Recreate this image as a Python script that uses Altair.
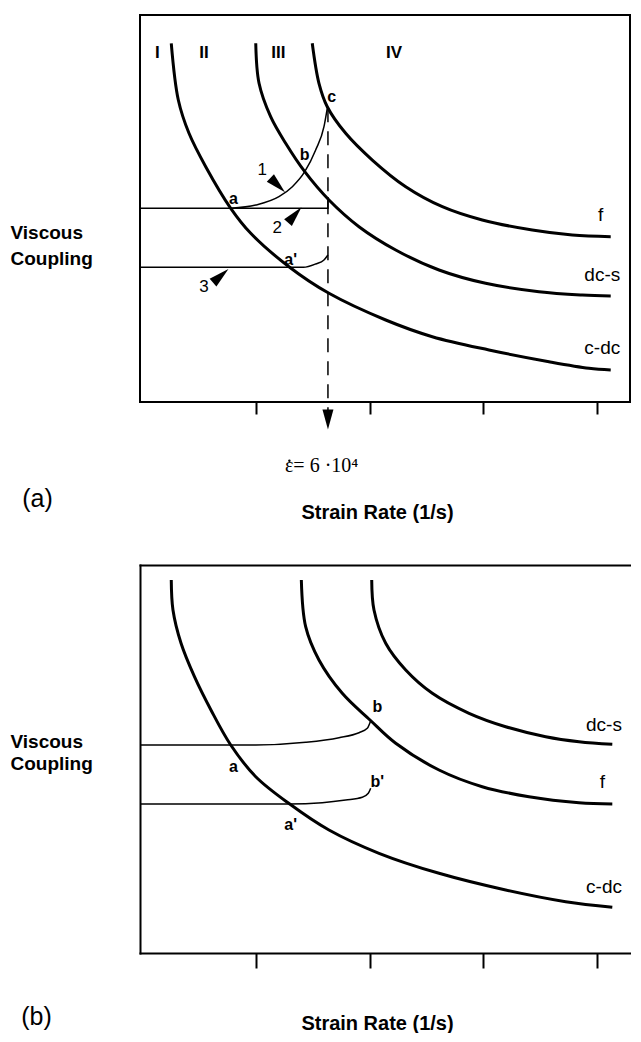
import altair as alt
import pandas as pd

# ---------------- panel (a) data ----------------
a_cdc_x = [0.255, 0.317, 0.411, 0.558, 0.778, 0.954, 1.290, 1.642, 2.141, 2.551, 3.049, 3.577, 3.929, 4.120]
a_cdc_y = [9.269, 7.804, 6.943, 6.080, 5.005, 4.359, 3.496, 2.809, 2.119, 1.687, 1.344, 1.041, 0.871, 0.827]
a_dcs_x = [0.998, 1.027, 1.129, 1.261, 1.429, 1.642, 1.906, 2.229, 2.610, 3.020, 3.489, 3.870, 4.120]
a_dcs_y = [9.269, 8.235, 7.372, 6.685, 5.951, 5.220, 4.530, 3.928, 3.411, 3.067, 2.850, 2.765, 2.739]
a_f_x = [1.495, 1.554, 1.627, 1.789, 2.023, 2.317, 2.639, 2.990, 3.430, 3.782, 4.120]
a_f_y = [9.269, 8.235, 7.630, 6.943, 6.253, 5.563, 5.047, 4.703, 4.444, 4.315, 4.271]

# thin paths (a)
a_p1_x = [0.778, 0.998, 1.202, 1.320, 1.429, 1.525, 1.598, 1.627]
a_p1_y = [5.005, 5.090, 5.305, 5.563, 5.951, 6.512, 7.114, 7.590]
a_p2_x = [-0.02, 1.633, 1.633]
a_p2_y = [5.005, 5.005, 5.300]
a_p3_x = [-0.02, 1.290, 1.417, 1.525, 1.598, 1.633]
a_p3_y = [3.481, 3.481, 3.481, 3.566, 3.669, 3.798]

cut_x = 1.633          # critical strain rate (dashed line)
cut_top = 7.59
cut_bottom = -0.207
arrow_tip_y = -0.452

# small pointer arrows (a)
ptr_x = [1.191, 1.341, 0.690]
ptr_y = [5.602, 4.832, 3.261]
ptr_ang = [134.4, 41.1, 48.7]

# labels (a)
reg_lab = ["I", "II", "III", "IV"]
reg_x = [0.132, 0.543, 1.196, 2.214]
reg_y = [9.01, 9.01, 9.01, 9.01]
a_pt_lab = ["c", "b", "a", "a'"]
a_pt_x = [1.666, 1.429, 0.801, 1.305]
a_pt_y = [7.889, 6.382, 5.238, 3.669]
a_num_lab = ["1", "2", "3"]
a_num_x = [1.056, 1.188, 0.543]
a_num_y = [5.995, 4.488, 2.979]
a_cv_lab = ["f", "dc-s", "c-dc"]
a_cv_x = [4.032, 4.046, 4.046]
a_cv_y = [4.832, 3.282, 1.387]

# ---------------- panel (b) data ----------------
b_cdc_x = [0.255, 0.270, 0.341, 0.459, 0.604, 0.778, 0.998, 1.297, 1.642, 2.082, 2.610, 3.196, 3.724, 4.134]
b_cdc_y = [9.613, 8.840, 7.982, 7.121, 6.263, 5.361, 4.544, 3.840, 3.170, 2.570, 2.054, 1.624, 1.322, 1.178]
b_f_x = [1.399, 1.437, 1.554, 1.759, 2.003, 2.229, 2.610, 2.990, 3.401, 3.841, 4.134]
b_f_y = [9.613, 8.410, 7.552, 6.693, 6.005, 5.405, 4.716, 4.286, 4.028, 3.874, 3.840]
b_dcs_x = [2.018, 2.038, 2.141, 2.317, 2.551, 2.874, 3.196, 3.548, 3.841, 4.134]
b_dcs_y = [9.613, 8.840, 7.982, 7.294, 6.693, 6.178, 5.832, 5.575, 5.446, 5.379]

b_p1_x = [-0.02, 0.998, 1.437, 1.730, 1.906, 1.979, 2.009]
b_p1_y = [5.361, 5.361, 5.430, 5.549, 5.678, 5.791, 5.987]
b_p2_x = [-0.02, 1.290, 1.583, 1.789, 1.935, 1.988, 2.009]
b_p2_y = [3.840, 3.840, 3.874, 3.943, 4.013, 4.116, 4.245]

b_pt_lab = ["b", "a", "b'", "a'"]
b_pt_x = [2.067, 0.801, 2.067, 1.305]
b_pt_y = [6.348, 4.802, 4.415, 3.299]
b_cv_lab = ["dc-s", "f", "c-dc"]
b_cv_x = [4.061, 4.046, 4.061]
b_cv_y = [5.876, 4.415, 1.709]

tick_vals = [1, 2, 3, 4]
x_title = "Strain Rate (1/s)"
y_title = ["Viscous", "Coupling"]
rate_text = "\u03b5= 6 \u00b710\u2074"
rate_x, rate_y = 1.255, -1.809
rate_dot_x, rate_dot_y = 1.294, -1.52

# ---------------- helpers ----------------
W, HA, HB = 490, 387, 388
FONT = "Liberation Sans"
xs = alt.Scale(domain=[-0.02, 4.2896], nice=False, zero=False)
ys = alt.Scale(domain=[0, 10], nice=False, zero=False)


def line_df(parts):
    rows = []
    for name, xx, yy in parts:
        for i, (a, b) in enumerate(zip(xx, yy)):
            rows.append({"x": a, "y": b, "name": name, "i": i})
    return pd.DataFrame(rows)


def txt_df(labels, xx, yy):
    return pd.DataFrame({"x": xx, "y": yy, "t": labels})


def lines(df, width, interp, ax=None, ay=None):
    return alt.Chart(df).mark_line(color="black", strokeWidth=width, interpolate=interp).encode(
        x=alt.X("x:Q", scale=xs, axis=ax),
        y=alt.Y("y:Q", scale=ys, axis=ay),
        detail="name:N",
        order="i:Q",
    )


def texts(df, size, weight="normal", font=FONT, align="center", baseline="middle"):
    return alt.Chart(df).mark_text(
        font=font, fontSize=size, fontWeight=weight, color="black", align=align, baseline=baseline
    ).encode(
        x=alt.X("x:Q", scale=xs, axis=None),
        y=alt.Y("y:Q", scale=ys, axis=None),
        text="t:N",
    )


def x_axis(tick_size, title_y, domain):
    return alt.Axis(values=tick_vals, labels=False, ticks=True, tickSize=tick_size, tickWidth=2,
                    tickColor="black", domain=domain, domainColor="black", domainWidth=2,
                    domainCap="square", grid=False, title=x_title, titleFont=FONT, titleFontSize=20,
                    titleFontWeight="bold", titleColor="black", titleX=237, titleY=title_y,
                    titleAlign="center", titleBaseline="alphabetic", titleAngle=0)


def y_axis(title_y, line_h, domain):
    return alt.Axis(ticks=False, labels=False, domain=domain, domainColor="black", domainWidth=2,
                    domainCap="square", grid=False, title=y_title, titleAngle=0, titleAlign="left",
                    titleBaseline="alphabetic", titleX=-130, titleY=title_y, titleFont=FONT,
                    titleFontSize=19, titleFontWeight="bold", titleLineHeight=line_h,
                    titleColor="black")


# ---------------- panel (a) ----------------
thick_a = lines(line_df([("c-dc", a_cdc_x, a_cdc_y), ("dc-s", a_dcs_x, a_dcs_y), ("f", a_f_x, a_f_y)]),
                3, "catmull-rom", x_axis(12, 116, False), y_axis(223, 26, False))
thin_a = lines(line_df([("p1", a_p1_x, a_p1_y), ("p3", a_p3_x, a_p3_y)]), 1.5, "monotone")
stub_a = lines(line_df([("p2", a_p2_x, a_p2_y)]), 1.5, "linear")

dash_a = alt.Chart(pd.DataFrame({"x": [cut_x], "y": [cut_top], "y2": [cut_bottom]})).mark_rule(
    color="black", strokeWidth=1.5, strokeDash=[14, 9]
).encode(x=alt.X("x:Q", scale=xs, axis=None), y=alt.Y("y:Q", scale=ys, axis=None), y2="y2:Q")

head_a = alt.Chart(pd.DataFrame({"x": [cut_x], "y": [arrow_tip_y]})).mark_point(
    shape="M-0.55,-1L0.55,-1L0,1Z", filled=True, color="black", size=400, opacity=1, strokeWidth=0
).encode(x=alt.X("x:Q", scale=xs, axis=None), y=alt.Y("y:Q", scale=ys, axis=None))

ptr_a = alt.Chart(pd.DataFrame({"x": ptr_x, "y": ptr_y, "ang": ptr_ang})).mark_point(
    shape="M0,-1L0.5,1L-0.5,1Z", filled=True, color="black", size=420, opacity=1, strokeWidth=0
).encode(x=alt.X("x:Q", scale=xs, axis=None), y=alt.Y("y:Q", scale=ys, axis=None),
         angle=alt.Angle("ang:Q", scale=None))

dot_a = alt.Chart(pd.DataFrame({"x": [rate_dot_x], "y": [rate_dot_y]})).mark_point(
    shape="circle", filled=True, color="black", size=6, opacity=1, strokeWidth=0
).encode(x=alt.X("x:Q", scale=xs, axis=None), y=alt.Y("y:Q", scale=ys, axis=None))

panel_a = alt.layer(
    thick_a, thin_a, stub_a, dash_a, head_a, ptr_a, dot_a,
    texts(txt_df(reg_lab, reg_x, reg_y), 17, "bold"),
    texts(txt_df(a_pt_lab, a_pt_x, a_pt_y), 16, "bold"),
    texts(txt_df(a_num_lab, a_num_x, a_num_y), 17),
    texts(txt_df(a_cv_lab, a_cv_x, a_cv_y), 19),
    texts(txt_df([rate_text], [rate_x], [rate_y]), 20, font="Liberation Serif", align="left",
          baseline="alphabetic"),
    texts(txt_df(["(a)"], [-0.921], [-2.506]), 25),
).resolve_axis(x="independent", y="independent").properties(
    width=W, height=HA, view=alt.ViewBackground(stroke="black", strokeWidth=2))

# ---------------- panel (b) ----------------
top_axis = alt.Axis(orient="top", domain=True, domainColor="black", domainWidth=2, domainCap="square",
                    ticks=False, labels=False, grid=False, title=None)

df_b = line_df([("c-dc", b_cdc_x, b_cdc_y), ("f", b_f_x, b_f_y), ("dc-s", b_dcs_x, b_dcs_y)])
thick_b = lines(df_b, 3, "catmull-rom", x_axis(15, 76, True), y_axis(182, 22, True))
frame_b = alt.Chart(df_b).mark_point(opacity=0).encode(
    x=alt.X("x:Q", scale=xs, axis=top_axis), y=alt.Y("y:Q", scale=ys, axis=None))
thin_b = lines(line_df([("p1", b_p1_x, b_p1_y), ("p2", b_p2_x, b_p2_y)]), 1.5, "monotone")

panel_b = alt.layer(
    thick_b, frame_b, thin_b,
    texts(txt_df(b_pt_lab, b_pt_x, b_pt_y), 16, "bold"),
    texts(txt_df(b_cv_lab, b_cv_x, b_cv_y), 19),
    texts(txt_df(["(b)"], [-0.930], [-1.649]), 25),
).resolve_axis(x="independent", y="independent").properties(width=W, height=HB)

chart = alt.vconcat(panel_a, panel_b, spacing=163, bounds="flush").properties(
    padding={"left": 1, "top": 6, "right": 0, "bottom": 0}
).configure(font=FONT).configure_view(stroke=None)

chart.save("out.html", embed_options={"renderer": "svg", "actions": False})
